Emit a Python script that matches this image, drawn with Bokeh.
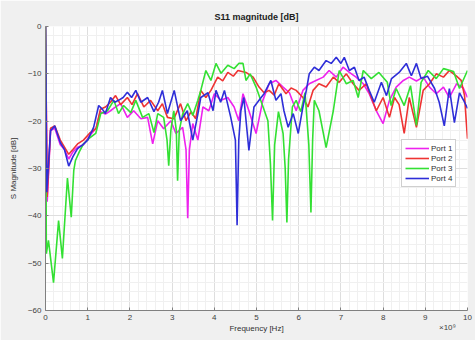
from bokeh.plotting import figure
from bokeh.models import Range1d, SingleIntervalTicker, FixedTicker, Legend, LegendItem, LinearAxis
from bokeh.embed import file_html
from bokeh.resources import INLINE

# ---- data (frequency in GHz, axis shows x10^9 Hz) ----
freq_p1 = [0, 0.04, 0.12, 0.22, 0.35, 0.45, 0.55, 0.65, 0.76, 0.9,
           1.05, 1.2, 1.3, 1.42, 1.54, 1.66, 1.78, 1.94, 2.09, 2.26,
           2.42, 2.54, 2.66, 2.8, 2.97, 3.09, 3.25, 3.33, 3.37, 3.41,
           3.49, 3.61, 3.73, 3.87, 4.0, 4.16, 4.32, 4.47, 4.58, 4.68,
           4.82, 4.99, 5.15, 5.3, 5.46, 5.63, 5.78, 5.94, 6.1, 6.25,
           6.41, 6.58, 6.72, 6.89, 7.05, 7.2, 7.36, 7.53, 7.67, 7.84,
           8.0, 8.15, 8.31, 8.48, 8.62, 8.79, 8.95, 9.1, 9.26, 9.43,
           9.57, 9.74, 9.9, 10.0]
s11_p1 = [0, -37, -22, -21.5, -25, -26, -28, -26.5, -25.5, -25,
          -23, -21.5, -18, -18.5, -17.8, -17, -16.3, -19.2, -17.8, -19.5,
          -19.2, -24.8, -19.9, -21.6, -19.9, -22.6, -21.3, -26, -40.5, -26,
          -20.5, -24, -17, -17.8, -14.2, -15.6, -15, -17, -19.9, -14.2,
          -17.8, -22.6, -15.6, -12.1, -11.4, -12.8, -14, -17.8, -13.5, -12.1,
          -11.4, -10.7, -9.3, -10.7, -8.6, -9.7, -10.7, -12.1, -14.2, -17.8,
          -20.5, -15.6, -12.8, -11.4, -10.7, -11.5, -10.7, -12.8, -14.2, -12.8,
          -15, -12.1, -13, -15]

freq_p2 = [0, 0.04, 0.12, 0.22, 0.35, 0.45, 0.55, 0.65, 0.76, 0.9,
           1.05, 1.2, 1.3, 1.42, 1.54, 1.66, 1.78, 1.94, 2.05, 2.18,
           2.33, 2.49, 2.66, 2.77, 2.89, 3.04, 3.2, 3.33, 3.45, 3.56,
           3.68, 3.8, 3.92, 4.08, 4.2, 4.32, 4.45, 4.56, 4.75, 4.92,
           5.06, 5.18, 5.3, 5.42, 5.53, 5.7, 5.82, 5.94, 6.1, 6.22,
           6.34, 6.48, 6.65, 6.82, 6.96, 7.13, 7.29, 7.43, 7.6, 7.72,
           7.84, 8.0, 8.15, 8.27, 8.38, 8.5, 8.62, 8.79, 8.95, 9.1,
           9.26, 9.43, 9.57, 9.74, 9.85, 9.93, 9.97, 10.0]
s11_p2 = [0, -36, -21.5, -21, -24, -25.5, -27, -26, -24.8, -24,
          -22.5, -21.5, -17.5, -17, -16, -14.6, -16.5, -15, -16.5, -14.2,
          -17, -15.6, -17.8, -16.3, -19.2, -19.5, -16.3, -19.9, -18, -19.5,
          -13.5, -15, -13.5, -10.7, -11.5, -9.7, -10.5, -9.3, -9.7, -10.7,
          -12.8, -14, -13.5, -14.5, -12.1, -14.2, -13, -13.5, -15, -17,
          -13.5, -12.1, -12.8, -10.7, -11.8, -10, -12.1, -13.5, -12.1, -15,
          -17.8, -15, -19.2, -15, -16.5, -22.6, -15, -21.3, -13.5, -12.1,
          -10, -10.7, -9.3, -10.5, -11.4, -14.6, -20, -23.7]

freq_p3 = [0, 0.02, 0.07, 0.19, 0.31, 0.4, 0.52, 0.61, 0.67, 0.71,
           0.8, 0.9, 1.05, 1.19, 1.31, 1.47, 1.62, 1.73, 1.85, 2.02,
           2.14, 2.3, 2.45, 2.57, 2.66, 2.8, 2.88, 2.92, 2.97, 3.04,
           3.1, 3.13, 3.17, 3.25, 3.37, 3.49, 3.61, 3.68, 3.8, 3.92,
           4.04, 4.16, 4.32, 4.47, 4.58, 4.68, 4.75, 4.85, 4.99, 5.1,
           5.27, 5.33, 5.38, 5.43, 5.52, 5.63, 5.68, 5.72, 5.76, 5.85,
           5.94, 6.05, 6.15, 6.24, 6.29, 6.33, 6.37, 6.48, 6.65, 6.82,
           6.96, 7.13, 7.29, 7.41, 7.53, 7.72, 7.9, 8.1, 8.19, 8.31,
           8.5, 8.65, 8.79, 8.9, 9.07, 9.26, 9.43, 9.67, 9.81, 10.0]
s11_p3 = [0, -48, -45.2, -54.1, -41, -49, -32, -40.3, -30.4, -28.3,
          -26.5, -24.8, -23.5, -22.6, -18.4, -17.8, -15.6, -18.4, -16.7, -18.2,
          -15.6, -19.2, -18.4, -22.4, -18.4, -19.2, -24, -29.4, -22, -17.8,
          -22, -32.6, -22, -18.5, -16.3, -18.8, -15.6, -13.5, -9.3, -11.4,
          -7.8, -9.9, -8.2, -8.9, -7.8, -7.8, -11.4, -10, -12.8, -15.6,
          -19.9, -29, -41, -25, -18, -22.6, -30, -41.4, -28, -17,
          -15.6, -18, -14, -25, -39.3, -24, -15.6, -17.8, -25.6, -17.8,
          -9.3, -12.1, -11.4, -15, -9.3, -11, -9.7, -11.8, -16.7, -13.1,
          -16.7, -12.5, -20.9, -11.8, -9.3, -11, -8.9, -9.5, -13.1, -9.3]

freq_p4 = [0, 0.03, 0.12, 0.22, 0.35, 0.45, 0.55, 0.65, 0.76, 0.88,
           1.0, 1.14, 1.26, 1.35, 1.42, 1.54, 1.64, 1.73, 1.84, 1.94,
           2.04, 2.14, 2.26, 2.42, 2.57, 2.68, 2.77, 2.89, 3.05, 3.2,
           3.36, 3.49, 3.6, 3.68, 3.85, 3.97, 4.04, 4.15, 4.24, 4.39,
           4.5, 4.54, 4.58, 4.63, 4.7, 4.82, 4.94, 5.06, 5.18, 5.34,
           5.46, 5.58, 5.65, 5.75, 5.87, 5.99, 6.1, 6.18, 6.25, 6.37,
           6.48, 6.65, 6.77, 6.89, 7.0, 7.08, 7.2, 7.32, 7.43, 7.55,
           7.67, 7.79, 7.96, 8.08, 8.2, 8.38, 8.55, 8.67, 8.79, 8.9,
           9.05, 9.22, 9.33, 9.45, 9.57, 9.69, 9.81, 9.93, 10.0]
s11_p4 = [0, -35, -22, -21, -24.5, -26, -29.5, -27.5, -25.8, -25,
          -24, -21.3, -16.7, -17.5, -18.4, -15, -16, -15.6, -15, -13.9,
          -15, -13.5, -16, -15, -18, -16, -13.5, -18.4, -13.5, -19.9,
          -17.8, -24, -19, -15, -14, -17.8, -13.5, -16, -13.5, -19.2,
          -24, -42, -24, -17.8, -15, -26.2, -17, -15.6, -14.2, -11.4,
          -15.6, -14.2, -17.8, -21.3, -18.4, -22.6, -17, -13.5, -10, -8.6,
          -9.3, -7.2, -7.8, -6.5, -7.8, -6.5, -9.3, -8.6, -11.4, -10.7,
          -13.5, -16, -11.8, -14.6, -11, -9.7, -7.8, -10.4, -7.8, -11,
          -10.5, -13.1, -16, -21, -13.1, -20.3, -14, -16, -17.3]

port_names = ["Port 1", "Port 2", "Port 3", "Port 4"]
port_colors = ["#ee22ee", "#ee3333", "#33e033", "#2e2ed8"]

FONT = "Liberation Sans"

p = figure(width=475, height=340, x_range=Range1d(0, 10), y_range=Range1d(-60, 0),
           output_backend="svg", toolbar_location=None, title="S11 magnitude [dB]",
           min_border_left=45, min_border_right=8, min_border_top=26, min_border_bottom=30)
p.border_fill_color = "#f0f0f0"
p.background_fill_color = "white"
p.outline_line_color = None

p.title.align = "center"
p.title.text_font = FONT
p.title.text_font_size = "9px"
p.title.text_font_style = "bold"
p.title.text_color = "#202020"

p.xaxis.ticker = SingleIntervalTicker(interval=1, num_minor_ticks=5)
p.yaxis.ticker = SingleIntervalTicker(interval=10, num_minor_ticks=5)
for ax in (p.xaxis[0], p.yaxis[0]):
    ax.axis_line_color = "#808080"
    ax.major_tick_line_color = "#808080"
    ax.major_tick_in = 3
    ax.major_tick_out = 0
    ax.minor_tick_line_color = None
    ax.minor_tick_out = 0
    ax.major_label_text_font = FONT
    ax.major_label_text_font_size = "8px"
    ax.major_label_text_color = "#404040"
    ax.axis_label_text_font = FONT
    ax.axis_label_text_font_size = "8px"
    ax.axis_label_text_font_style = "normal"
    ax.axis_label_text_color = "#303030"
    ax.major_label_standoff = 4
p.xaxis.axis_label = "Frequency [Hz]"
p.yaxis.axis_label = "S Magnitude [dB]"
p.xaxis.axis_label_standoff = 1
p.yaxis.axis_label_standoff = 7

# exponent note "x10^9" shown at the right end of the frequency axis
# (the label is centred on the frame's right edge; trailing no-break spaces
#  shift the visible note left so it ends at the frame edge, as in the reference)
exp_axis = LinearAxis(ticker=FixedTicker(ticks=[]), axis_label="×10⁹" + "\u00a0" * 18,
                      axis_line_color=None, major_tick_line_color=None,
                      minor_tick_line_color=None, major_tick_in=0, major_tick_out=0,
                      minor_tick_in=0, minor_tick_out=0,
                      axis_label_standoff=-13, axis_label_text_font=FONT,
                      axis_label_text_font_size="8px", axis_label_text_font_style="normal",
                      axis_label_text_color="#404040", axis_label_align="end")
p.add_layout(exp_axis, "below")

for g in (p.xgrid[0], p.ygrid[0]):
    g.grid_line_color = "#dedede"
    g.minor_grid_line_color = "#f0f0f0"

series = [(freq_p1, s11_p1), (freq_p2, s11_p2), (freq_p3, s11_p3), (freq_p4, s11_p4)]
items = []
for (fx, fy), name, col in zip(series, port_names, port_colors):
    r = p.line(fx, fy, line_color=col, line_width=1.6)
    items.append(LegendItem(label=name, renderers=[r]))

legend = Legend(items=items, location=(356, 123))
legend.glyph_width = 24
legend.glyph_height = 10
legend.label_height = 10
legend.label_standoff = 2
legend.spacing = 0
legend.padding = 3
legend.margin = 0
legend.label_text_font = FONT
legend.label_text_font_size = "8px"
legend.label_text_color = "#303030"
legend.border_line_color = "#a0a0a0"
legend.background_fill_color = "white"
legend.background_fill_alpha = 1.0
p.add_layout(legend)

open("out.html", "w").write(file_html(p, INLINE))
